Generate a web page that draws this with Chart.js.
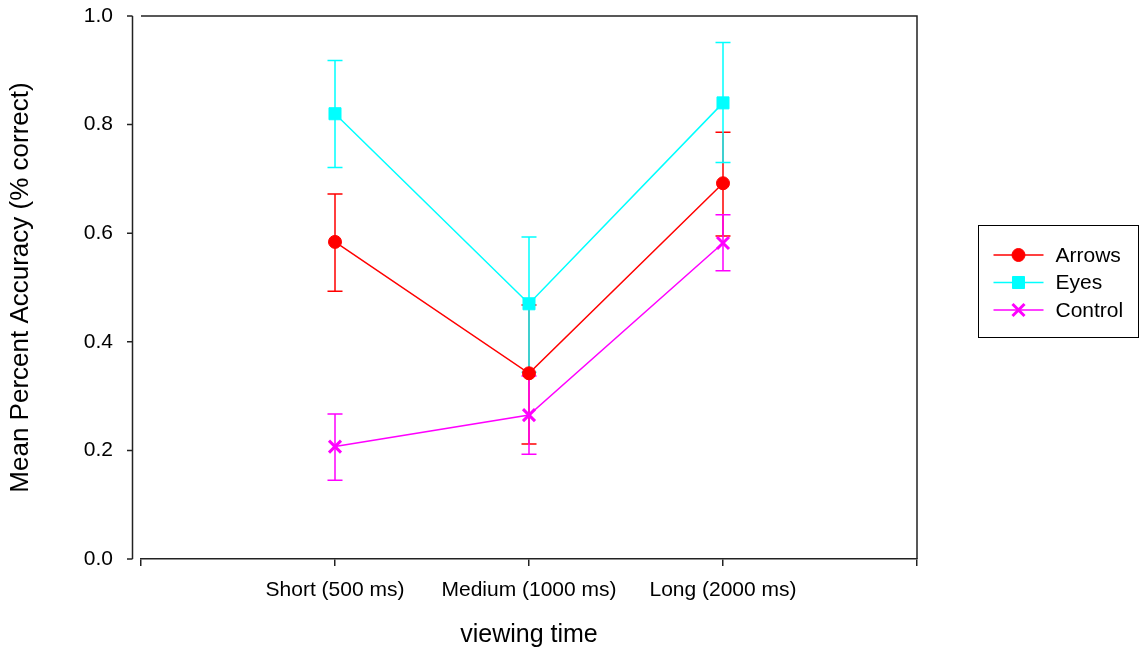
<!DOCTYPE html>
<html><head><meta charset="utf-8">
<script src="https://cdn.jsdelivr.net/npm/chart.js@4.4.1/dist/chart.umd.min.js"></script>
<style>html,body{margin:0;padding:0;background:#fff}</style>
</head><body>
<canvas id="c" width="1140" height="650"></canvas>
<script>
const categories = ['Short (500 ms)', 'Medium (1000 ms)', 'Long (2000 ms)'];
const seriesNames = ['Arrows', 'Eyes', 'Control'];
const arrowsMean = [0.584, 0.342, 0.692];
const arrowsLow  = [0.493, 0.212, 0.595];
const arrowsHigh = [0.672, 0.468, 0.786];
const eyesMean = [0.820, 0.470, 0.840];
const eyesLow  = [0.721, 0.344, 0.730];
const eyesHigh = [0.918, 0.593, 0.951];
const controlMean = [0.207, 0.265, 0.582];
const controlLow  = [0.145, 0.193, 0.531];
const controlHigh = [0.267, 0.337, 0.634];
const yTickValues = [0, 0.2, 0.4, 0.6, 0.8, 1.0];
const xTickValues = [0, 1, 2, 3, 4];
const xTitle = 'viewing time';
const yTitle = 'Mean Percent Accuracy (% correct)';

const FONT = "'Liberation Sans', Arial, sans-serif";
const TICK_SIZE = 21;
const TITLE_SIZE = 26;

const toPoints = arr => arr.map((v, i) => ({x: i + 1, y: v}));

const styles = [
  {color: '#ff0000', pointStyle: 'circle', radius: 6.5, bw: 1},
  {color: '#00ffff', pointStyle: 'rect', radius: 8.5, bw: 1},
  {color: '#ff00ff', pointStyle: 'crossRot', radius: 8.5, bw: 3}
];
const means = [arrowsMean, eyesMean, controlMean];
const lows = [arrowsLow, eyesLow, controlLow];
const highs = [arrowsHigh, eyesHigh, controlHigh];

const datasets = seriesNames.map((name, i) => ({
  label: name,
  data: toPoints(means[i]),
  errLow: lows[i],
  errHigh: highs[i],
  showLine: true,
  borderColor: styles[i].color,
  backgroundColor: styles[i].color,
  borderWidth: 1.5,
  pointStyle: styles[i].pointStyle,
  pointRadius: styles[i].radius,
  pointBackgroundColor: styles[i].color,
  pointBorderColor: styles[i].color,
  pointBorderWidth: styles[i].bw,
  pointHoverRadius: styles[i].radius
}));

const errorBarPlugin = {
  id: 'errorBars',
  beforeDatasetsDraw(chart) {
    const {ctx, scales: {x, y}} = chart;
    ctx.save();
    ctx.lineWidth = 1.5;
    chart.data.datasets.forEach(ds => {
      ctx.strokeStyle = ds.borderColor;
      ds.data.forEach((p, j) => {
        const px = x.getPixelForValue(p.x);
        const yl = y.getPixelForValue(ds.errLow[j]);
        const yh = y.getPixelForValue(ds.errHigh[j]);
        ctx.beginPath();
        ctx.moveTo(px, yh); ctx.lineTo(px, yl);
        ctx.moveTo(px - 7.5, yh); ctx.lineTo(px + 7.5, yh);
        ctx.moveTo(px - 7.5, yl); ctx.lineTo(px + 7.5, yl);
        ctx.stroke();
      });
    });
    ctx.restore();
  }
};

const framePlugin = {
  id: 'frame',
  afterDraw(chart) {
    const {ctx, chartArea: a, scales: {y}} = chart;
    ctx.save();
    ctx.strokeStyle = '#222';
    ctx.lineWidth = 1.5;
    ctx.beginPath();
    ctx.moveTo(a.left, a.top); ctx.lineTo(a.right, a.top); ctx.lineTo(a.right, a.bottom);
    ctx.stroke();
    const ax = a.left - 8.5;
    ctx.beginPath();
    ctx.moveTo(ax, y.getPixelForValue(y.max)); ctx.lineTo(ax, y.getPixelForValue(y.min));
    y.ticks.forEach(t => {
      const py = y.getPixelForValue(t.value);
      ctx.moveTo(ax - 5.5, py); ctx.lineTo(ax, py);
    });
    ctx.stroke();
    ctx.restore();
  }
};

const legendPlugin = {
  id: 'boxLegend',
  afterDraw(chart) {
    const {ctx, chartArea: a} = chart;
    const bx = a.right + 61.5, by = 225.5, bw = 160, bh = 112;
    ctx.save();
    ctx.strokeStyle = '#000';
    ctx.lineWidth = 1;
    ctx.strokeRect(bx, by, bw, bh);
    ctx.font = TICK_SIZE + 'px ' + FONT;
    ctx.textBaseline = 'middle';
    ctx.textAlign = 'left';
    chart.data.datasets.forEach((ds, i) => {
      const yy = 255 + i * 27.5;
      ctx.strokeStyle = ds.borderColor;
      ctx.lineWidth = 1.5;
      ctx.beginPath();
      ctx.moveTo(bx + 15, yy); ctx.lineTo(bx + 65, yy);
      ctx.stroke();
      ctx.fillStyle = ds.pointBackgroundColor;
      ctx.lineWidth = ds.pointBorderWidth;
      Chart.helpers.drawPoint(ctx, {pointStyle: ds.pointStyle, radius: ds.pointRadius, rotation: 0, borderWidth: ds.pointBorderWidth}, bx + 40, yy);
      ctx.fillStyle = '#000';
      ctx.fillText(ds.label, bx + 77, yy + 1);
    });
    ctx.restore();
  }
};

new Chart(document.getElementById('c'), {
  type: 'scatter',
  data: {datasets},
  plugins: [errorBarPlugin, framePlugin, legendPlugin],
  options: {
    responsive: false,
    devicePixelRatio: 1,
    animation: false,
    layout: {padding: {top: 16, right: 223, bottom: 0, left: 0}},
    plugins: {legend: {display: false}, tooltip: {enabled: false}},
    scales: {
      x: {
        type: 'linear', min: 0, max: 4,
        afterBuildTicks(s) { s.ticks = xTickValues.map(v => ({value: v})); },
        ticks: {
          autoSkip: false, maxRotation: 0, minRotation: 0, padding: 12,
          color: '#000', font: {size: TICK_SIZE, family: FONT},
          callback: v => categories[v - 1] ?? ''
        },
        grid: {drawOnChartArea: false, drawTicks: true, tickLength: 7, color: '#222', lineWidth: 1.5},
        border: {display: true, color: '#222', width: 1.5},
        title: {display: true, text: xTitle, color: '#000', font: {size: 25, family: FONT}, padding: {top: 0, bottom: 0}},
        afterFit(s) { s.height = 91; s.paddingLeft = 0; s.paddingRight = 0; }
      },
      y: {
        min: 0, max: 1,
        afterBuildTicks(s) { s.ticks = yTickValues.map(v => ({value: v})); },
        ticks: {
          padding: 20, color: '#000', font: {size: TICK_SIZE, family: FONT},
          callback: v => v.toFixed(1)
        },
        grid: {display: false},
        border: {display: false},
        title: {display: true, text: yTitle, color: '#000', font: {size: TITLE_SIZE, family: FONT}, padding: {top: 5, bottom: 0}},
        afterFit(s) { s.width = 141; s.paddingTop = 0; s.paddingBottom = 0; }
      }
    }
  }
});
</script>
</body></html>
